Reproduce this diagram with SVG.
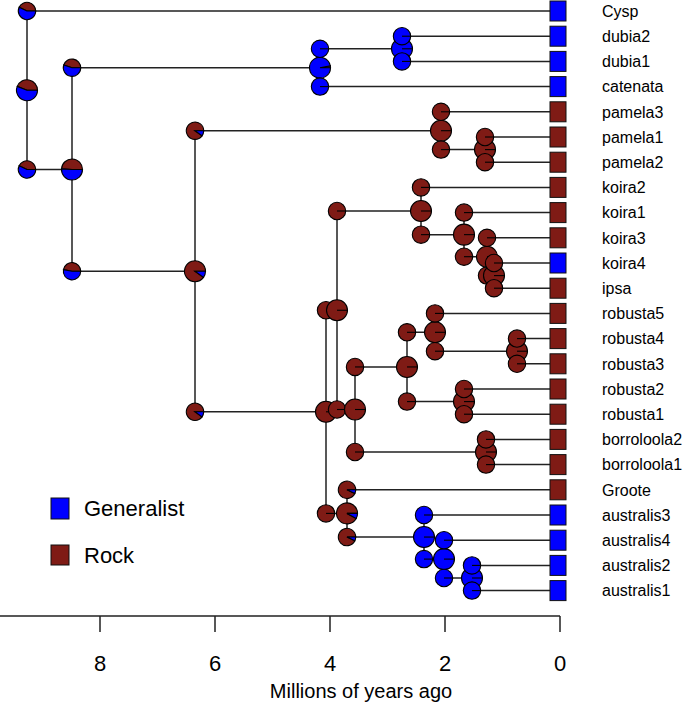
<svg xmlns="http://www.w3.org/2000/svg" width="685" height="706" viewBox="0 0 685 706">
<style>
.br{fill:#7f1b15;stroke:#000;stroke-width:1.1}
.bl{fill:#0000ff;stroke:#000;stroke-width:1.1}
.rl{stroke:#000;stroke-width:1.1;fill:none}
.ed{stroke:#222;stroke-width:1.5;fill:none}
.sq{stroke:#111;stroke-width:1}
.tl{font-family:"Liberation Sans",Arial,sans-serif;font-size:16px;fill:#000}
.lg{font-family:"Liberation Sans",Arial,sans-serif;font-size:22px;fill:#000}
.ax{font-family:"Liberation Sans",Arial,sans-serif;font-size:22px;fill:#000;text-anchor:middle}
.ti{font-family:"Liberation Sans",Arial,sans-serif;font-size:20px;fill:#000;text-anchor:middle}
</style>
<defs>
<g id="bS"><circle r="8.7" class="br"/><path d="M0 0H8.7" class="rl"/></g>
<g id="bL"><circle r="10.5" class="br"/><path d="M0 0H10.5" class="rl"/></g>
<g id="uS"><circle r="8.7" class="bl"/><path d="M0 0H8.7" class="rl"/></g>
<g id="uL"><circle r="10.5" class="bl"/><path d="M0 0H10.5" class="rl"/></g>
<g id="rootN"><path class="br" d="M0 0L10.5 0A10.5 10.5 0 0 0 -9.763 -3.865Z"/><path class="bl" d="M0 0L-9.763 -3.865A10.5 10.5 0 1 0 10.5 0Z"/></g>
<g id="rootC"><path class="br" d="M0 0L8.7 0A8.7 8.7 0 0 0 -7.872 -3.704Z"/><path class="bl" d="M0 0L-7.872 -3.704A8.7 8.7 0 1 0 8.7 0Z"/></g>
<g id="aN"><path class="br" d="M0 0L10.5 0A10.5 10.5 0 0 0 -10.479 -0.659Z"/><path class="bl" d="M0 0L-10.479 -0.659A10.5 10.5 0 1 0 10.5 0Z"/></g>
<g id="aC1"><path class="br" d="M0 0L8.7 0A8.7 8.7 0 0 0 -8.274 -2.688Z"/><path class="bl" d="M0 0L-8.274 -2.688A8.7 8.7 0 1 0 8.7 0Z"/></g>
<g id="aC2"><path class="br" d="M0 0L8.7 0A8.7 8.7 0 0 0 -8.546 -1.63Z"/><path class="bl" d="M0 0L-8.546 -1.63A8.7 8.7 0 1 0 8.7 0Z"/></g>
<g id="bN"><path class="br" d="M0 0L10.5 0A10.5 10.5 0 0 0 10.314 -1.968Z"/><path class="bl" d="M0 0L10.314 -1.968A10.5 10.5 0 1 0 10.5 0Z"/></g>
<g id="cN"><path class="br" d="M0 0L10.5 0A10.5 10.5 0 1 0 8.495 6.172Z"/><path class="bl" d="M0 0L8.495 6.172A10.5 10.5 0 0 0 10.5 0Z"/></g>
<g id="cC"><path class="br" d="M0 0L8.7 0A8.7 8.7 0 1 0 7.038 5.114Z"/><path class="bl" d="M0 0L7.038 5.114A8.7 8.7 0 0 0 8.7 0Z"/></g>
<g id="yN"><path class="br" d="M0 0L10.5 0A10.5 10.5 0 1 0 9.201 5.059Z"/><path class="bl" d="M0 0L9.201 5.059A10.5 10.5 0 0 0 10.5 0Z"/></g>
<g id="yC"><path class="br" d="M0 0L8.7 0A8.7 8.7 0 1 0 7.872 3.704Z"/><path class="bl" d="M0 0L7.872 3.704A8.7 8.7 0 0 0 8.7 0Z"/></g>
</defs>
<rect width="685" height="706" fill="#fff"/>
<g id="connectors" class="ed">
<path d="M27 11H558M27 169.5H72M27 11V169.5"/>
<path d="M72 67.7H320M72 271.25H195M72 67.7V271.25"/>
<path d="M320 48.8H402M320 86.6H558M320 48.8V86.6"/>
<path d="M402 36.2H558M402 61.4H558M402 36.2V61.4"/>
<path d="M195 130.7H441M195 411.8H326M195 130.7V411.8"/>
<path d="M441 111.8H558M441 149.6H485M441 111.8V149.6"/>
<path d="M485 137H558M485 162.2H558M485 137V162.2"/>
<path d="M326 310.25H337M326 513.4H347M326 310.25V513.4"/>
<path d="M337 211H421M337 409.5H355M337 211V409.5"/>
<path d="M421 187.4H558M421 234.65H464M421 187.4V234.65"/>
<path d="M464 212.6H558M464 256.7H487M464 212.6V256.7"/>
<path d="M487 237.8H558M487 275.6H494M487 237.8V275.6"/>
<path d="M494 263H558M494 288.2H558M494 263V288.2"/>
<path d="M355 366.95H407M355 452H486M355 366.95V452"/>
<path d="M407 332.3H435M407 401.6H464M407 332.3V401.6"/>
<path d="M435 313.4H558M435 351.2H517M435 313.4V351.2"/>
<path d="M517 338.6H558M517 363.8H558M517 338.6V363.8"/>
<path d="M464 389H558M464 414.2H558M464 389V414.2"/>
<path d="M486 439.4H558M486 464.6H558M486 439.4V464.6"/>
<path d="M347 489.8H558M347 537.05H424M347 489.8V537.05"/>
<path d="M424 515H558M424 559.1H444M424 515V559.1"/>
<path d="M444 540.2H558M444 578H472M444 540.2V578"/>
<path d="M472 565.4H558M472 590.6H558M472 565.4V590.6"/>
</g>
<g id="node-root"><use href="#rootN" x="27" y="90.25"/><use href="#rootC" x="27" y="11"/><use href="#rootC" x="27" y="169.5"/></g>
<g id="node-A"><use href="#aN" x="72" y="169.5"/><use href="#aC1" x="72" y="67.7"/><use href="#aC2" x="72" y="271.25"/></g>
<g id="node-B"><use href="#bN" x="320" y="67.7"/><use href="#uS" x="320" y="48.8"/><use href="#uS" x="320" y="86.6"/></g>
<g id="node-D"><use href="#uL" x="402" y="48.8"/><use href="#uS" x="402" y="36.2"/><use href="#uS" x="402" y="61.4"/></g>
<g id="node-C"><use href="#cN" x="195" y="271.25"/><use href="#cC" x="195" y="130.7"/><use href="#cC" x="195" y="411.8"/></g>
<g id="node-E"><use href="#bL" x="441" y="130.7"/><use href="#bS" x="441" y="111.8"/><use href="#bS" x="441" y="149.6"/></g>
<g id="node-G"><use href="#bL" x="485" y="149.6"/><use href="#bS" x="485" y="137"/><use href="#bS" x="485" y="162.2"/></g>
<g id="node-F"><use href="#bL" x="326" y="411.8"/><use href="#bS" x="326" y="310.25"/><use href="#bS" x="326" y="513.4"/></g>
<g id="node-X"><use href="#bL" x="337" y="310.25"/><use href="#bS" x="337" y="211"/><use href="#bS" x="337" y="409.5"/></g>
<g id="node-K"><use href="#bL" x="421" y="211"/><use href="#bS" x="421" y="187.4"/><use href="#bS" x="421" y="234.65"/></g>
<g id="node-K2"><use href="#bL" x="464" y="234.65"/><use href="#bS" x="464" y="212.6"/><use href="#bS" x="464" y="256.7"/></g>
<g id="node-K3"><use href="#bL" x="487" y="256.7"/><use href="#bS" x="487" y="237.8"/><use href="#bS" x="487" y="275.6"/></g>
<g id="node-K4"><use href="#bL" x="494" y="275.6"/><use href="#bS" x="494" y="263"/><use href="#bS" x="494" y="288.2"/></g>
<g id="node-R"><use href="#bL" x="355" y="409.5"/><use href="#bS" x="355" y="366.95"/><use href="#bS" x="355" y="452"/></g>
<g id="node-Rob"><use href="#bL" x="407" y="366.95"/><use href="#bS" x="407" y="332.3"/><use href="#bS" x="407" y="401.6"/></g>
<g id="node-R543"><use href="#bL" x="435" y="332.3"/><use href="#bS" x="435" y="313.4"/><use href="#bS" x="435" y="351.2"/></g>
<g id="node-R43"><use href="#bL" x="517" y="351.2"/><use href="#bS" x="517" y="338.6"/><use href="#bS" x="517" y="363.8"/></g>
<g id="node-R21"><use href="#bL" x="464" y="401.6"/><use href="#bS" x="464" y="389"/><use href="#bS" x="464" y="414.2"/></g>
<g id="node-Bor"><use href="#bL" x="486" y="452"/><use href="#bS" x="486" y="439.4"/><use href="#bS" x="486" y="464.6"/></g>
<g id="node-Y"><use href="#yN" x="347" y="513.4"/><use href="#yC" x="347" y="489.8"/><use href="#yC" x="347" y="537.05"/></g>
<g id="node-Aus"><use href="#uL" x="424" y="537.05"/><use href="#uS" x="424" y="515"/><use href="#uS" x="424" y="559.1"/></g>
<g id="node-W"><use href="#uL" x="444" y="559.1"/><use href="#uS" x="444" y="540.2"/><use href="#uS" x="444" y="578"/></g>
<g id="node-Z"><use href="#uL" x="472" y="578"/><use href="#uS" x="472" y="565.4"/><use href="#uS" x="472" y="590.6"/></g>
<g id="tip-Cysp"><rect class="sq" x="550" y="1" width="16" height="20" fill="#0000ff"/><text class="tl" x="602" y="16.7">Cysp</text></g>
<g id="tip-dubia2"><rect class="sq" x="550" y="26.2" width="16" height="20" fill="#0000ff"/><text class="tl" x="602" y="41.9">dubia2</text></g>
<g id="tip-dubia1"><rect class="sq" x="550" y="51.4" width="16" height="20" fill="#0000ff"/><text class="tl" x="602" y="67.1">dubia1</text></g>
<g id="tip-catenata"><rect class="sq" x="550" y="76.6" width="16" height="20" fill="#0000ff"/><text class="tl" x="602" y="92.3">catenata</text></g>
<g id="tip-pamela3"><rect class="sq" x="550" y="101.8" width="16" height="20" fill="#7f1b15"/><text class="tl" x="602" y="117.5">pamela3</text></g>
<g id="tip-pamela1"><rect class="sq" x="550" y="127" width="16" height="20" fill="#7f1b15"/><text class="tl" x="602" y="142.7">pamela1</text></g>
<g id="tip-pamela2"><rect class="sq" x="550" y="152.2" width="16" height="20" fill="#7f1b15"/><text class="tl" x="602" y="167.9">pamela2</text></g>
<g id="tip-koira2"><rect class="sq" x="550" y="177.4" width="16" height="20" fill="#7f1b15"/><text class="tl" x="602" y="193.1">koira2</text></g>
<g id="tip-koira1"><rect class="sq" x="550" y="202.6" width="16" height="20" fill="#7f1b15"/><text class="tl" x="602" y="218.3">koira1</text></g>
<g id="tip-koira3"><rect class="sq" x="550" y="227.8" width="16" height="20" fill="#7f1b15"/><text class="tl" x="602" y="243.5">koira3</text></g>
<g id="tip-koira4"><rect class="sq" x="550" y="253" width="16" height="20" fill="#0000ff"/><text class="tl" x="602" y="268.7">koira4</text></g>
<g id="tip-ipsa"><rect class="sq" x="550" y="278.2" width="16" height="20" fill="#7f1b15"/><text class="tl" x="602" y="293.9">ipsa</text></g>
<g id="tip-robusta5"><rect class="sq" x="550" y="303.4" width="16" height="20" fill="#7f1b15"/><text class="tl" x="602" y="319.1">robusta5</text></g>
<g id="tip-robusta4"><rect class="sq" x="550" y="328.6" width="16" height="20" fill="#7f1b15"/><text class="tl" x="602" y="344.3">robusta4</text></g>
<g id="tip-robusta3"><rect class="sq" x="550" y="353.8" width="16" height="20" fill="#7f1b15"/><text class="tl" x="602" y="369.5">robusta3</text></g>
<g id="tip-robusta2"><rect class="sq" x="550" y="379" width="16" height="20" fill="#7f1b15"/><text class="tl" x="602" y="394.7">robusta2</text></g>
<g id="tip-robusta1"><rect class="sq" x="550" y="404.2" width="16" height="20" fill="#7f1b15"/><text class="tl" x="602" y="419.9">robusta1</text></g>
<g id="tip-borroloola2"><rect class="sq" x="550" y="429.4" width="16" height="20" fill="#7f1b15"/><text class="tl" x="602" y="445.1">borroloola2</text></g>
<g id="tip-borroloola1"><rect class="sq" x="550" y="454.6" width="16" height="20" fill="#7f1b15"/><text class="tl" x="602" y="470.3">borroloola1</text></g>
<g id="tip-Groote"><rect class="sq" x="550" y="479.8" width="16" height="20" fill="#7f1b15"/><text class="tl" x="602" y="495.5">Groote</text></g>
<g id="tip-australis3"><rect class="sq" x="550" y="505" width="16" height="20" fill="#0000ff"/><text class="tl" x="602" y="520.7">australis3</text></g>
<g id="tip-australis4"><rect class="sq" x="550" y="530.2" width="16" height="20" fill="#0000ff"/><text class="tl" x="602" y="545.9">australis4</text></g>
<g id="tip-australis2"><rect class="sq" x="550" y="555.4" width="16" height="20" fill="#0000ff"/><text class="tl" x="602" y="571.1">australis2</text></g>
<g id="tip-australis1"><rect class="sq" x="550" y="580.6" width="16" height="20" fill="#0000ff"/><text class="tl" x="602" y="596.3">australis1</text></g>
<g id="legend">
<rect class="sq" x="51" y="498" width="18" height="21" fill="#0000ff"/><text class="lg" x="84" y="516">Generalist</text>
<rect class="sq" x="51" y="545" width="18" height="20" fill="#7f1b15"/><text class="lg" x="84" y="563">Rock</text>
</g>
<g id="axis">
<path class="ed" d="M0 616H560M100 616V632M215 616V632M330 616V632M445 616V632M560 616V632"/>
<text class="ax" x="100" y="671">8</text><text class="ax" x="215" y="671">6</text><text class="ax" x="330" y="671">4</text><text class="ax" x="445" y="671">2</text><text class="ax" x="560" y="671">0</text>
<text class="ti" x="361" y="698">Millions of years ago</text>
</g>
</svg>
